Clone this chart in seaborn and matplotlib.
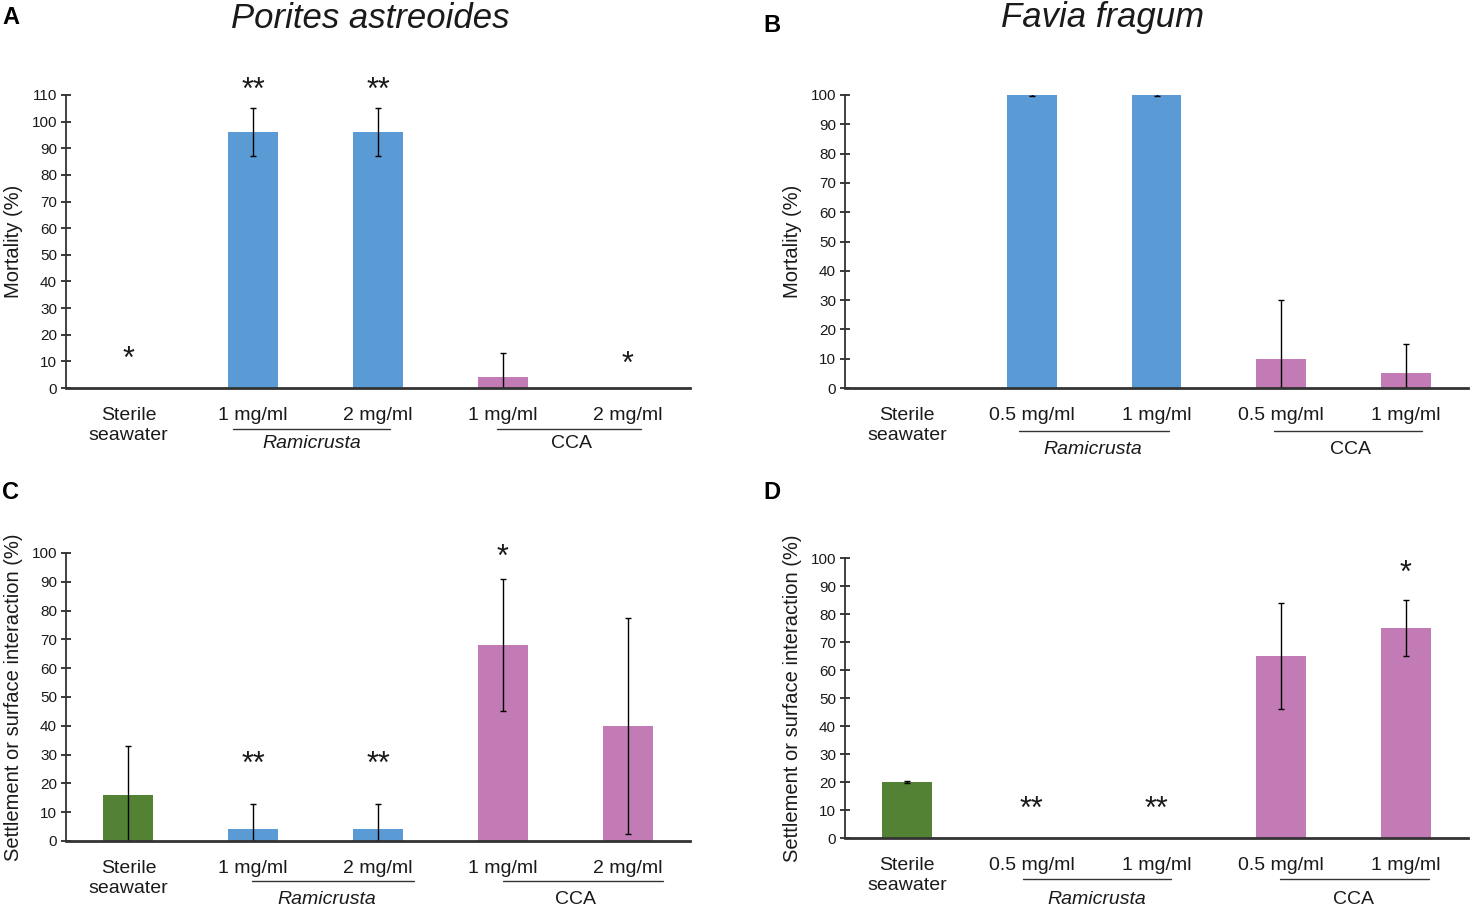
import matplotlib
matplotlib.use("Agg")
import matplotlib.pyplot as plt
import matplotlib.transforms as mtransforms
import numpy as np
import pandas as pd
import seaborn as sns

sns.set_style("ticks")
plt.rcParams["font.family"] = ["Liberation Sans", "DejaVu Sans"]

BLUE = "#5b9bd5"
PINK = "#c27bb5"
GREEN = "#548235"
palette = {"Sterile": GREEN, "Ramicrusta": BLUE, "CCA": PINK}

# categories shared by all panels
groups = ["Sterile", "Ramicrusta", "Ramicrusta", "CCA", "CCA"]
keys = ["s", "r1", "r2", "c1", "c2"]

labels_AC = ["Sterile\nseawater", "1 mg/ml", "2 mg/ml", "1 mg/ml", "2 mg/ml"]
labels_BD = ["Sterile\nseawater", "0.5 mg/ml", "1 mg/ml", "0.5 mg/ml", "1 mg/ml"]

# A: Porites astreoides mortality
mort_A = [0, 96, 96, 4, 0]
mort_A_err = [0, 9, 9, 9, 0]
stars_A = ["*", "**", "**", "", "*"]
stars_A_y = [7.5, 108.5, 108.5, 0, 5.5]

# B: Favia fragum mortality
mort_B = [0, 100, 100, 10, 5]
mort_B_err = [0, 0.2, 0.2, 20, 10]
stars_B = ["", "", "", "", ""]
stars_B_y = [0, 0, 0, 0, 0]

# C: Porites astreoides settlement
sett_C = [16, 4, 4, 68, 40]
sett_C_err = [17, 9, 9, 23, 37.5]
stars_C = ["", "**", "**", "*", ""]
stars_C_y = [0, 23.5, 23.5, 95.5, 0]

# D: Favia fragum settlement
sett_D = [20, 0, 0, 65, 75]
sett_D_err = [0.2, 0, 0, 19, 10]
stars_D = ["", "**", "**", "", "*"]
stars_D_y = [0, 7, 7, 0, 91.5]

# group underline spans (category units) and label centres
spans_A = [(0.84, 2.10, 1.47, "Ramicrusta"), (2.95, 4.11, 3.55, "CCA")]
spans_B = [(0.90, 2.10, 1.49, "Ramicrusta"), (2.94, 4.13, 3.56, "CCA")]
spans_C = [(0.99, 2.29, 1.59, "Ramicrusta"), (3.00, 4.28, 3.58, "CCA")]
spans_D = [(0.93, 2.12, 1.52, "Ramicrusta"), (2.99, 4.19, 3.58, "CCA")]

fig = plt.figure(figsize=(14.76, 9.14), dpi=100)

W, H = 1476, 914


def box(l, r, t, b):
    return [l / W, 1 - b / H, (r - l) / W, (b - t) / H]


def panel(rect, values, errs, labels, stars, stars_y, spans, ymax, ystep, ylabel,
          line_off, text_off):
    ax = fig.add_axes(rect)
    df = pd.DataFrame({"key": keys, "value": values, "group": groups})
    sns.barplot(data=df, x="key", y="value", hue="group", palette=palette,
                dodge=False, width=0.4, legend=False, ax=ax, errorbar=None,
                linewidth=0, saturation=1)
    vals = np.array(values, dtype=float)
    e = np.array(errs, dtype=float)
    lower = np.minimum(e, vals)
    xs = np.arange(len(values))
    mask = e > 0
    ax.errorbar(xs[mask], vals[mask], yerr=[lower[mask], e[mask]], fmt="none",
                ecolor="black", elinewidth=1, capsize=2, capthick=1)
    for x, s, y in zip(xs, stars, stars_y):
        if s:
            ax.text(x, y, s, ha="center", va="baseline", fontsize=22,
                    color="#1a1a1a")
    ax.set_xlim(-0.5, 4.5)
    ax.set_ylim(0, ymax)
    ax.set_yticks(np.arange(0, ymax + 1, ystep))
    ax.set_xticks(xs)
    ax.set_xticklabels(labels, fontsize=14, color="#1a1a1a")
    ax.set_xlabel("")
    ax.set_ylabel(ylabel, fontsize=14.5, color="#1a1a1a", labelpad=6)
    ax.tick_params(axis="x", length=0, pad=14)
    ax.tick_params(axis="y", direction="inout", length=7, width=1.2,
                   labelsize=11, colors="#1a1a1a", pad=3)
    sns.despine(ax=ax)
    ax.spines["left"].set_linewidth(1.3)
    ax.spines["left"].set_color("#333333")
    ax.spines["bottom"].set_linewidth(2)
    ax.spines["bottom"].set_color("#333333")
    line_tr = mtransforms.offset_copy(ax.get_xaxis_transform(), fig=fig,
                                      x=0, y=-line_off, units="dots")
    text_tr = mtransforms.offset_copy(ax.get_xaxis_transform(), fig=fig,
                                      x=0, y=-text_off, units="dots")
    for x0, x1, xc, name in spans:
        ax.plot([x0, x1], [0, 0], color="#333333", lw=1, transform=line_tr,
                clip_on=False)
        ax.text(xc, 0, name, ha="center", va="center", fontsize=14,
                color="#1a1a1a", transform=text_tr,
                style="italic" if name == "Ramicrusta" else "normal")
    return ax


panel(box(66, 690, 95, 388), mort_A, mort_A_err, labels_AC, stars_A, stars_A_y,
      spans_A, 110, 10, "Mortality (%)", 41, 55)
panel(box(845, 1468, 95, 388), mort_B, mort_B_err, labels_BD, stars_B, stars_B_y,
      spans_B, 100, 10, "Mortality (%)", 43, 61)
panel(box(66, 690, 553, 841), sett_C, sett_C_err, labels_AC, stars_C, stars_C_y,
      spans_C, 100, 10, "Settlement or surface interaction (%)", 40, 59)
panel(box(845, 1468, 558, 838), sett_D, sett_D_err, labels_BD, stars_D, stars_D_y,
      spans_D, 100, 10, "Settlement or surface interaction (%)", 41, 62)

fig.text(370 / W, 1 - 18 / H, "Porites astreoides", ha="center", va="center",
         fontsize=25, style="italic", color="#1a1a1a")
fig.text(1103 / W, 1 - 18 / H, "Favia fragum", ha="center", va="center",
         fontsize=25, style="italic", color="#1a1a1a")
for letter, x, y in [("A", 2, 18), ("B", 763, 25), ("C", 2, 493), ("D", 763, 493)]:
    fig.text(x / W, 1 - y / H, letter, ha="left", va="center", fontsize=17,
             fontweight="bold", color="black")

fig.savefig("out.png", dpi=100)
